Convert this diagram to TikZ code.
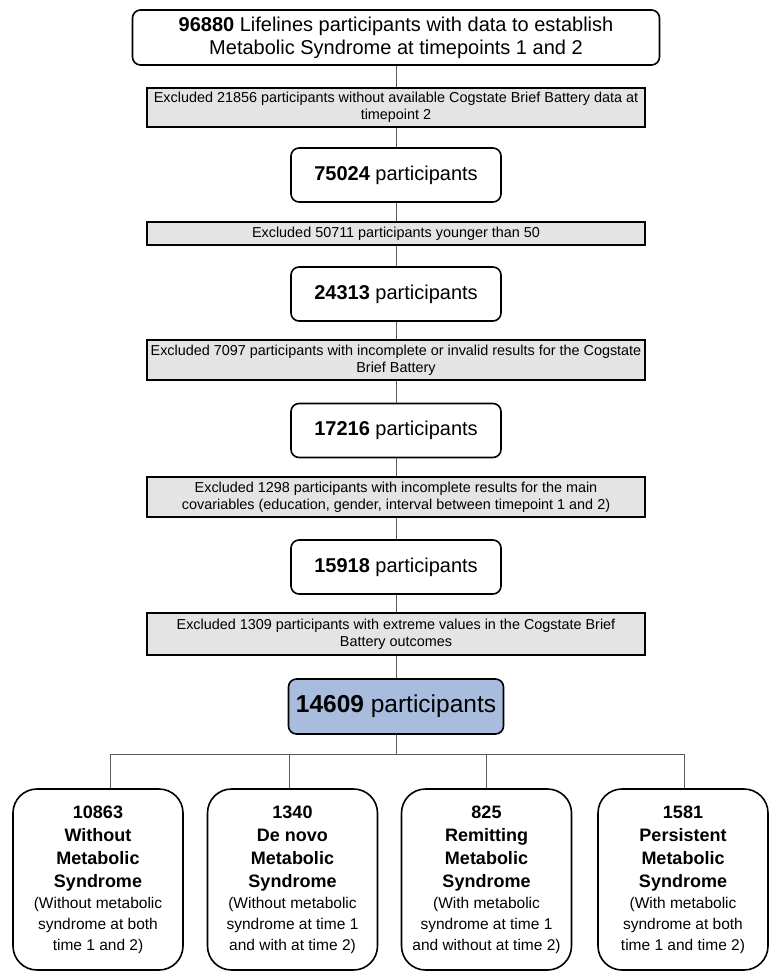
\documentclass[tikz,border=0pt]{standalone}
\usepackage{fontspec}
\setmainfont{Liberation Sans}
\definecolor{exclgray}{RGB}{228,228,228}
\definecolor{finalblue}{RGB}{168,188,221}
\definecolor{linkgray}{RGB}{90,90,90}
\begin{document}
\begin{tikzpicture}[x=1pt,y=-1pt,
    countbox/.style={draw, line width=1.6pt, rounded corners=8pt, fill=white,
        minimum width=210pt, minimum height=54pt, align=center,
        font=\fontsize{20}{23}\selectfont},
    exclbox/.style={draw, line width=1.2pt, fill=exclgray, minimum width=498pt,
        inner sep=2pt, align=center, font=\fontsize{14.4}{17}\selectfont},
    groupbox/.style={draw, line width=1.6pt, rounded corners=24pt, fill=white,
        minimum width=170pt, minimum height=181pt, align=center, inner sep=1pt,
        font=\fontsize{15.5}{21}\selectfont},
    grouphead/.style={font=\fontsize{18}{23}\selectfont\bfseries},
    link/.style={draw=linkgray, line width=0.9pt}]
    \useasboundingbox (0,0) rectangle (780,974);

    % Flow of participants
    \node[countbox, minimum width=527pt, minimum height=55pt] (start) at (396,37.5)
        {\textbf{96880} Lifelines participants with data to establish\\Metabolic Syndrome at timepoints 1 and 2};
    \node[exclbox, minimum height=39pt] (ex1) at (396,107.5)
        {Excluded 21856 participants without available Cogstate Brief Battery data at\\timepoint 2};
    \node[countbox] (n1) at (396,175) {\textbf{75024} participants};
    \node[exclbox, minimum height=23pt] (ex2) at (396,233.5)
        {Excluded 50711 participants younger than 50};
    \node[countbox] (n2) at (396,294) {\textbf{24313} participants};
    \node[exclbox, minimum height=40pt] (ex3) at (396,360)
        {Excluded 7097 participants with incomplete or invalid results for the Cogstate\\Brief Battery};
    \node[countbox] (n3) at (396,430.5) {\textbf{17216} participants};
    \node[exclbox, minimum height=40pt] (ex4) at (396,497)
        {Excluded 1298 participants with incomplete results for the main\\covariables (education, gender, interval between timepoint 1 and 2)};
    \node[countbox] (n4) at (396,567) {\textbf{15918} participants};
    \node[exclbox, minimum height=42pt] (ex5) at (396,634)
        {Excluded 1309 participants with extreme values in the Cogstate Brief\\Battery outcomes};
    \node[countbox, fill=finalblue, minimum width=215pt, minimum height=55pt,
        font=\fontsize{24.5}{28}\selectfont] (final) at (396,706.5) {\textbf{14609} participants};

    \foreach \a/\b in {start/ex1, ex1/n1, n1/ex2, ex2/n2, n2/ex3, ex3/n3, n3/ex4, ex4/n4, n4/ex5, ex5/final}
        \draw[link] (\a.south) -- (\b.north);

    % Groups
    \node[groupbox] (g1) at (98,879.5)
        {{\fontsize{18}{23}\selectfont\bfseries 10863}\\[2pt]{\fontsize{18}{23}\selectfont\bfseries Without}\\[2pt]{\fontsize{18}{23}\selectfont\bfseries Metabolic}\\[2pt]{\fontsize{18}{23}\selectfont\bfseries Syndrome}\\(Without metabolic\\syndrome at both\\time 1 and 2)};
    \node[groupbox] (g2) at (292.5,879.5)
        {{\fontsize{18}{23}\selectfont\bfseries 1340}\\[2pt]{\fontsize{18}{23}\selectfont\bfseries De novo}\\[2pt]{\fontsize{18}{23}\selectfont\bfseries Metabolic}\\[2pt]{\fontsize{18}{23}\selectfont\bfseries Syndrome}\\(Without metabolic\\syndrome at time 1\\and with at time 2)};
    \node[groupbox] (g3) at (486.5,879.5)
        {{\fontsize{18}{23}\selectfont\bfseries 825}\\[2pt]{\fontsize{18}{23}\selectfont\bfseries Remitting}\\[2pt]{\fontsize{18}{23}\selectfont\bfseries Metabolic}\\[2pt]{\fontsize{18}{23}\selectfont\bfseries Syndrome}\\(With metabolic\\syndrome at time 1\\and without at time 2)};
    \node[groupbox] (g4) at (683,879.5)
        {{\fontsize{18}{23}\selectfont\bfseries 1581}\\[2pt]{\fontsize{18}{23}\selectfont\bfseries Persistent}\\[2pt]{\fontsize{18}{23}\selectfont\bfseries Metabolic}\\[2pt]{\fontsize{18}{23}\selectfont\bfseries Syndrome}\\(With metabolic\\syndrome at both\\time 1 and time 2)};

    % Branches
    \coordinate (split) at (396,754);
    \coordinate (j1) at (110,754);
    \coordinate (j2) at (289,754);
    \coordinate (j3) at (486,754);
    \coordinate (j4) at (684,754);
    \draw[link] (final.south) -- (split);
    \draw[link] (j1) -- (j4);
    \draw[link] (j1) -- (j1 |- g1.north);
    \draw[link] (j2) -- (j2 |- g2.north);
    \draw[link] (j3) -- (j3 |- g3.north);
    \draw[link] (j4) -- (j4 |- g4.north);
\end{tikzpicture}
\end{document}
